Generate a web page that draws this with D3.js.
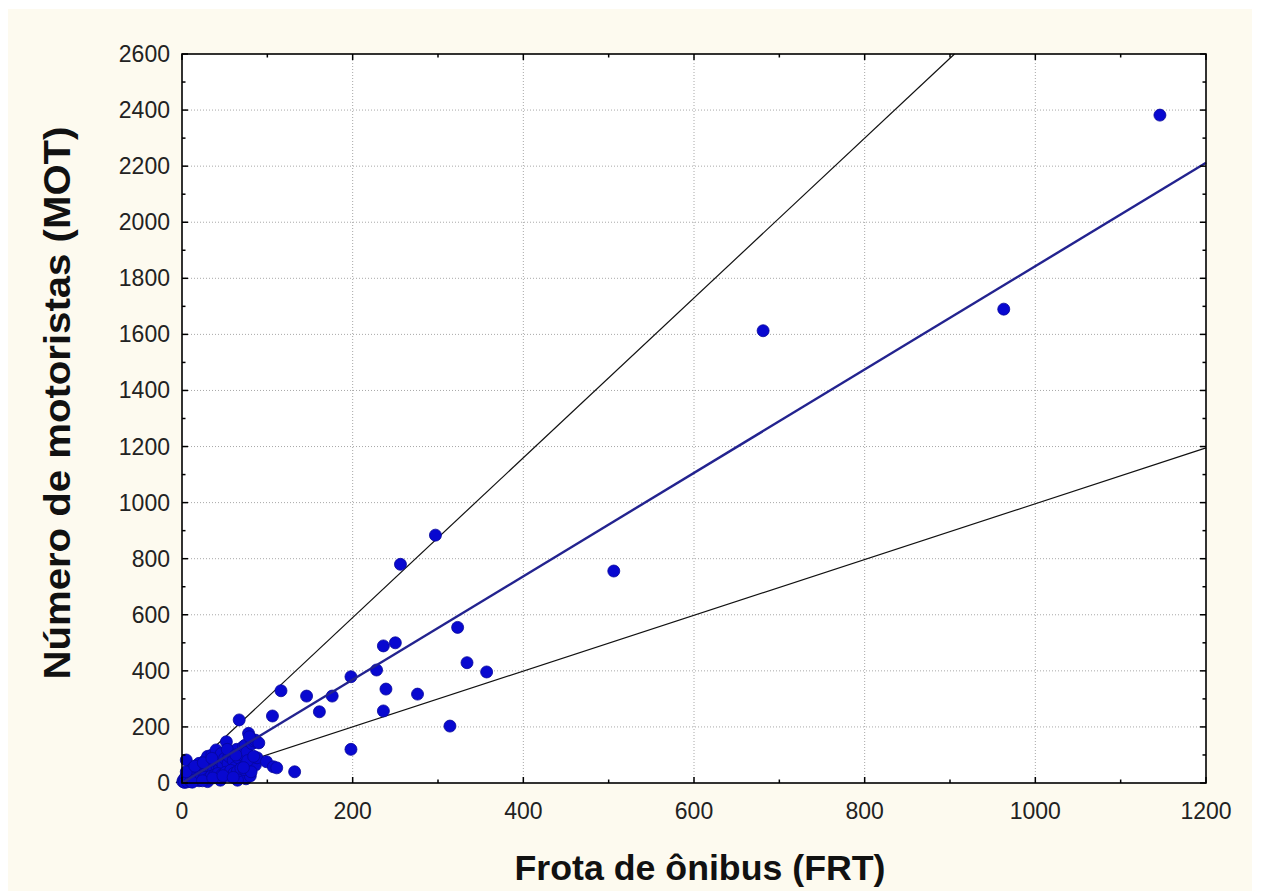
<!DOCTYPE html>
<html><head><meta charset="utf-8">
<script src="https://cdn.jsdelivr.net/npm/d3@7"></script>
<style>
html,body{margin:0;padding:0;background:#fff;}
svg{display:block;}
</style></head>
<body>
<svg id="c" width="1262" height="891"></svg>
<script>
// ---- data ----
const frota = [1146,963,681,506,297,256,323,236,250,334,357,228,239,276,198,176,146,116,161,106,236,314,198,
  1,2,3,4,5,6,7,8,9,10,11,12,13,14,15,16,17,18,19,20,21,22,23,24,25,26,27,28,29,30,31,32,33,34,35,36,37,38,40,41,42,43,44,45,46,48,50,52,54,55,56,58,60,62,64,66,67,68,70,72,74,75,76,78,80,82,84,86,86,88,90,99,107,111,132,62,45,30,20,55,70,75,80,65,
  3,6,10,14,18,22,26,30,34,38,42,47,51,57,61,65,69,73,77,81,12,24,36,48,60,72,84,5,15,25,35,53,63,79];
const motoristas = [2382,1690,1613,756,884,780,555,489,500,429,396,403,335,317,379,310,310,329,254,239,257,203,120,
  5,12,8,20,82,30,15,25,40,18,35,50,28,22,45,60,33,38,55,70,30,48,42,65,36,58,80,52,40,95,62,48,75,55,100,68,44,85,118,60,72,90,50,78,105,65,88,147,70,95,40,110,80,55,120,90,225,30,100,130,135,70,110,177,60,140,150,153,64,90,143,76,58,54,40,20,10,5,8,25,40,15,25,10,
  2,4,6,10,12,16,20,14,24,28,34,30,38,45,35,42,52,48,80,40,3,8,18,26,20,55,95,40,60,72,88,120,100,165];
const xTicks = [0,200,400,600,800,1000,1200];
const yTicks = [0,200,400,600,800,1000,1200,1400,1600,1800,2000,2200,2400,2600];
const xMinor = [100,300,500,700,900,1100];
const yMinor = [100,300,500,700,900,1100,1300,1500,1700,1900,2100,2300,2500];
// fitted line (blue) and the two outer lines: [intercept, slope, xStart]
const fitLine = [-2, 1.845, 0];
const upperLine = [20, 2.85, -7];
const lowerLine = [1, 0.995, 0];
const xTitle = "Frota de ônibus (FRT)";
const yTitle = "Número de motoristas (MOT)";

// ---- layout ----
const L = 182, R = 1206, T = 54, B = 783;
const svg = d3.select("#c");
svg.append("rect").attr("x",8).attr("y",9).attr("width",1244).attr("height",882).attr("fill","#fdfaef");
const x = d3.scaleLinear().domain([0,1200]).range([L,R]);
const y = d3.scaleLinear().domain([0,2600]).range([B,T]);

svg.append("rect").attr("x",L).attr("y",T).attr("width",R-L).attr("height",B-T).attr("fill","#fff");

// grid
const g = svg.append("g");
g.selectAll(".gx").data(xTicks.slice(1,-1)).enter().append("line")
  .attr("x1",d=>x(d)).attr("x2",d=>x(d)).attr("y1",T).attr("y2",B)
  .attr("stroke","#a8a8a8").attr("stroke-width",1).attr("stroke-dasharray","1,2");
g.selectAll(".gy").data(yTicks.slice(1,-1)).enter().append("line")
  .attr("y1",d=>y(d)).attr("y2",d=>y(d)).attr("x1",L).attr("x2",R)
  .attr("stroke","#a8a8a8").attr("stroke-width",1).attr("stroke-dasharray","1,2");

// lines
function drawLine(p, color, w){
  const [a,b,x0] = p;
  let x1 = 1200, y1 = a + b*x1;
  if (y1 > 2600){ y1 = 2600; x1 = (2600-a)/b; }
  let y0 = a + b*x0;
  svg.append("line").attr("x1",x(x0)).attr("y1",y(Math.max(y0,0))).attr("x2",x(x1)).attr("y2",y(y1))
    .attr("stroke",color).attr("stroke-width",w);
}
drawLine(upperLine,"#111",1.2);
drawLine(lowerLine,"#111",1.2);

// points
svg.append("g").selectAll("circle").data(frota.map((f,i)=>[f,motoristas[i]])).enter().append("circle")
  .attr("cx",d=>x(d[0])).attr("cy",d=>y(d[1])).attr("r",6)
  .attr("fill","#0808d0").attr("stroke","#06069a").attr("stroke-width",0.8);

drawLine(fitLine,"#23238f",2.4);

// frame
svg.append("rect").attr("x",L).attr("y",T).attr("width",R-L).attr("height",B-T)
  .attr("fill","none").attr("stroke","#000").attr("stroke-width",1.6);

// ticks (inward, all four sides)
const tk = svg.append("g").attr("stroke","#000").attr("stroke-width",1.5);
function ticksX(arr,len){
  arr.forEach(v=>{
    tk.append("line").attr("x1",x(v)).attr("x2",x(v)).attr("y1",B).attr("y2",B-len);
    tk.append("line").attr("x1",x(v)).attr("x2",x(v)).attr("y1",T).attr("y2",T+len);
  });
}
function ticksY(arr,len){
  arr.forEach(v=>{
    tk.append("line").attr("y1",y(v)).attr("y2",y(v)).attr("x1",L).attr("x2",L+len);
    tk.append("line").attr("y1",y(v)).attr("y2",y(v)).attr("x1",R).attr("x2",R-len);
  });
}
ticksX(xTicks,6); ticksX(xMinor,3.5);
ticksY(yTicks,6); ticksY(yMinor,3.5);

// labels
const font = "'Liberation Sans', Arial, sans-serif";
svg.append("g").selectAll("text").data(xTicks).enter().append("text")
  .attr("x",d=>x(d)).attr("y",819).attr("text-anchor","middle")
  .attr("font-family",font).attr("font-size",23).attr("fill","#222").text(d=>d);
svg.append("g").selectAll("text").data(yTicks).enter().append("text")
  .attr("x",170).attr("y",d=>y(d)+8).attr("text-anchor","end")
  .attr("font-family",font).attr("font-size",23).attr("fill","#222").text(d=>d);

svg.append("text").attr("x",700).attr("y",880).attr("text-anchor","middle")
  .attr("font-family",font).attr("font-weight","bold").attr("font-size",35).attr("fill","#111")
  .attr("textLength",371).attr("lengthAdjust","spacingAndGlyphs").text(xTitle);
svg.append("text").attr("transform",`translate(70,403) rotate(-90)`).attr("text-anchor","middle")
  .attr("font-family",font).attr("font-weight","bold").attr("font-size",37).attr("fill","#111")
  .attr("textLength",553).attr("lengthAdjust","spacingAndGlyphs").text(yTitle);
</script>
</body></html>
